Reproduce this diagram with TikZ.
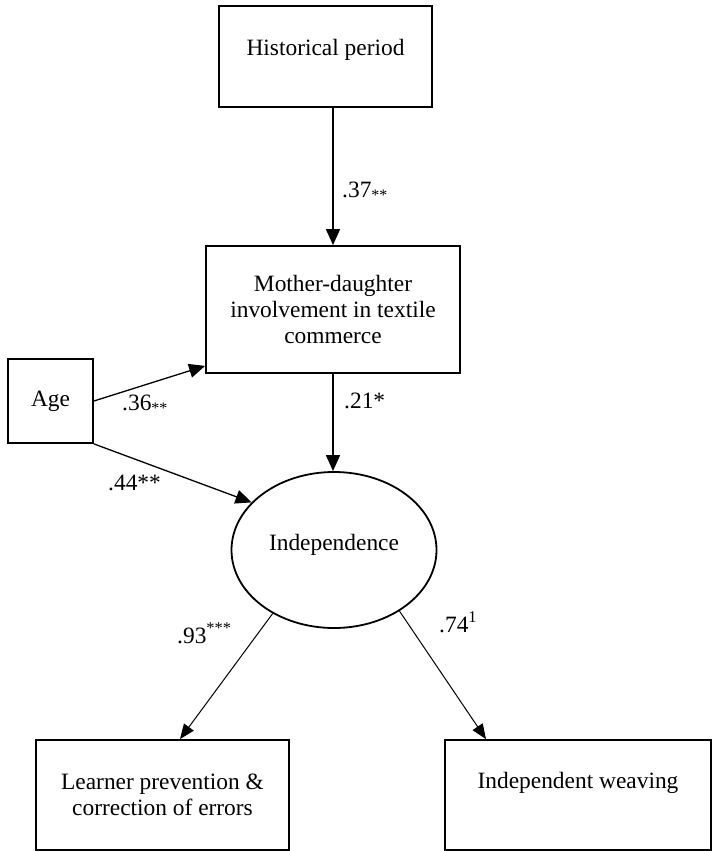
\documentclass[tikz,border=0pt]{standalone}
\usepackage{fontspec}
\setmainfont{Liberation Serif}
\usetikzlibrary{arrows.meta,shapes.geometric,calc}
\newcommand\figfont{\fontsize{23.4}{26}\selectfont}
\newcommand\smallstars[1]{\raisebox{-3pt}{\fontsize{16}{16}\selectfont #1}}
\begin{document}
\begin{tikzpicture}[x=1pt,y=-1pt,
  box/.style={draw, line width=1.8pt, rectangle, inner sep=0pt, align=center, font=\figfont},
  latent/.style={draw, ellipse, line width=1.8pt, inner sep=0pt, font=\figfont},
  inlabel/.style={font=\figfont},
  coef/.style={font=\figfont, anchor=base west, inner sep=0pt},
  path/.style={line width=1.3pt, -{Triangle[length=16pt,width=14pt]}},
  load/.style={line width=1pt, -{Triangle[length=15pt,width=12pt]}}
]
\path[use as bounding box] (0,0) rectangle (713,851);

\node[box, minimum width=213pt, minimum height=101pt,
  label={[inlabel, yshift=7pt]center:Historical period}] (hist) at (325.5,56.5) {};
\node[box, minimum width=254pt, minimum height=127pt] (mother) at (333,309.5)
  {Mother-daughter\\involvement in textile\\commerce};
\node[box, minimum width=85pt, minimum height=84pt] (age) at (50.5,401) {Age};
\node[latent, minimum width=205pt, minimum height=156pt,
  label={[inlabel, yshift=5.6pt]center:Independence}] (ind) at (334,550) {};
\node[box, minimum width=253pt, minimum height=110pt] (learn) at (162.5,795)
  {Learner prevention \&\\correction of errors};
\node[box, minimum width=266pt, minimum height=110pt,
  label={[inlabel, yshift=12.6pt]center:Independent weaving}] (weave) at (578,795) {};

\draw[path] (mother.north |- hist.south) -- (mother.north);
\draw[path] (mother.south) -- (mother.south |- ind.north);
\draw[path] (age.east) -- ([yshift=8pt]mother.south west);
\draw[path] (age.south east) -- (ind.150);
\draw[load] (ind.226) -- ([xshift=17.5pt]learn.north);
\draw[load] (ind.317) -- ([xshift=-92pt]weave.north);

\node[coef] (c37) at (342,197) {.37\smallstars{**}};
\node[coef] (c21) at (344,408) {.21*};
\node[coef] (c36) at (122,410) {.36\smallstars{**}};
\node[coef] (c44) at (108,490) {.44**};
\node[coef] (c93) at (177,643) {.93\textsuperscript{***}};
\node[coef] (c74) at (439,632) {.74\textsuperscript{1}};
\end{tikzpicture}
\end{document}
